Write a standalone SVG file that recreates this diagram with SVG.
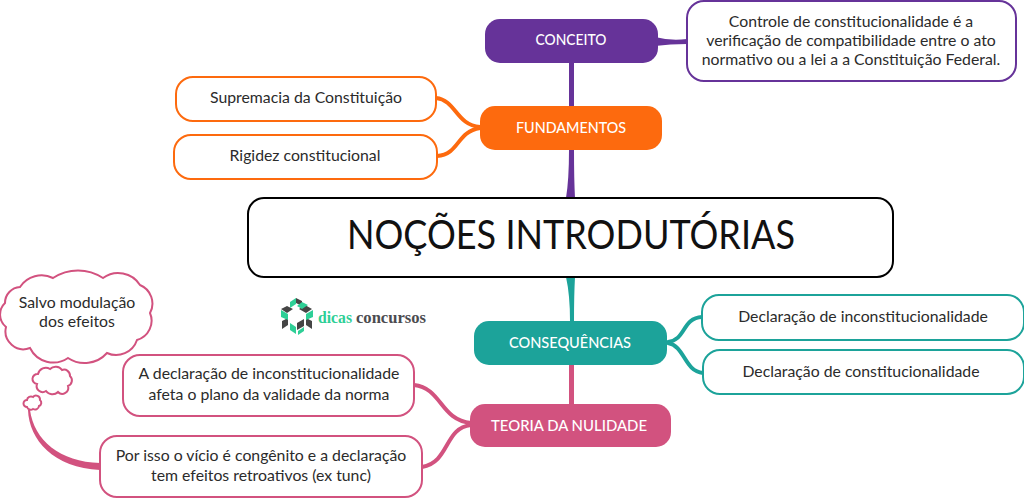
<svg xmlns="http://www.w3.org/2000/svg" width="1024" height="499" viewBox="0 0 1024 499">
<style>
text{font-family:"Lato","Open Sans",sans-serif;fill:#2b2b2b;text-anchor:middle}
.t{font-size:15.8px}
.h{font-size:15.5px;fill:#fff;font-weight:500}
.n{fill:#fff;stroke-width:2}
.c{fill:none;stroke-linecap:round;stroke-width:4}
.pur{stroke:#663399}.ora{stroke:#fd6a0e}.tea{stroke:#1ca39a}.pin{stroke:#d2527f}
</style>
<rect width="1024" height="499" fill="#fff"/>
<g id="connectors">
<path d="M569 63 L574 63 L574 106 L569 106Z" fill="#663399"/>
<path d="M566 198 Q569 180 569 150 L574 150 Q574 180 575 198Z" fill="#663399"/>
<path d="M655 37 Q670 41 687 39 L687 44 Q670 44 655 46Z" fill="#663399"/>
<path class="c ora" d="M436 98 C456 100 456 125 480 127"/>
<path class="c ora" d="M437 156 C460 154 456 132 480 128"/>
<path d="M566 277 Q570 295 570 321 L574 321 Q574 295 575 277Z" fill="#1ca39a"/>
<path d="M569 365 L574 365 L574 404 L569 404Z" fill="#d2527f"/>
<path class="c tea" d="M668 342 C686 340 682 318 702 317"/>
<path class="c tea" d="M668 343 C685 346 684 371 703 373"/>
<path class="c pin" d="M414 385 C442 388 440 420 471 423"/>
<path class="c pin" d="M422 467 C450 462 444 428 471 425"/>
<path d="M30 410 C34 440 60 462 100 463 L100 470 C54 468 29 440 28 410Z" fill="#d2527f"/>
</g>
<g id="conceito"><rect x="485" y="19" width="173" height="44" rx="15" fill="#663399"/><text class="h" x="571" y="45" textLength="71" lengthAdjust="spacingAndGlyphs">CONCEITO</text></g>
<g id="conceito-def"><rect class="n pur" x="687" y="1" width="329" height="80" rx="17"/>
<text class="t" x="851" y="27">Controle de constitucionalidade é a</text>
<text class="t" x="851" y="46">verificação de compatibilidade entre o ato</text>
<text class="t" x="851" y="65">normativo ou a lei a a Constituição Federal.</text></g>
<g id="fundamentos"><rect x="480" y="106" width="182" height="44" rx="15" fill="#fd6a0e"/><text class="h" x="571" y="133" textLength="110" lengthAdjust="spacingAndGlyphs">FUNDAMENTOS</text></g>
<g id="supremacia"><rect class="n ora" x="176" y="77" width="260" height="44" rx="17"/><text class="t" x="306" y="103">Supremacia da Constituição</text></g>
<g id="rigidez"><rect class="n ora" x="174" y="135" width="263" height="44" rx="17"/><text class="t" x="305" y="161">Rigidez constitucional</text></g>
<g id="central"><rect x="248" y="198" width="645" height="79" rx="16" fill="#fff" stroke="#000" stroke-width="2"/><text x="571" y="249" textLength="448" lengthAdjust="spacingAndGlyphs" style="font-size:41px;fill:#111">NOÇÕES INTRODUTÓRIAS</text></g>
<g id="consequencias"><rect x="474" y="321" width="193" height="44" rx="15" fill="#1ca39a"/><text class="h" x="570" y="348" textLength="122" lengthAdjust="spacingAndGlyphs">CONSEQUÊNCIAS</text></g>
<g id="inconst"><rect class="n tea" x="702" y="295" width="322" height="45" rx="17"/><text class="t" x="863" y="322">Declaração de inconstitucionalidade</text></g>
<g id="const"><rect class="n tea" x="703" y="350" width="321" height="44" rx="17"/><text class="t" x="861" y="377">Declaração de constitucionalidade</text></g>
<g id="teoria"><rect x="470" y="404" width="201" height="43" rx="15" fill="#d2527f"/><text class="h" x="569" y="431" textLength="156" lengthAdjust="spacingAndGlyphs">TEORIA DA NULIDADE</text></g>
<g id="plano"><rect class="n pin" x="123" y="355" width="291" height="61" rx="17"/>
<text class="t" x="269" y="379">A declaração de inconstitucionalidade</text>
<text class="t" x="269" y="400">afeta o plano da validade da norma</text></g>
<g id="vicio"><rect class="n pin" x="100" y="436" width="322" height="61" rx="17"/>
<text class="t" x="261" y="461">Por isso o vício é congênito e a declaração</text>
<text class="t" x="261" y="481">tem efeitos retroativos (ex tunc)</text></g>
<g id="nuvem"><path class="n pin" d="M20 287 A26 26 0 0 1 53 278 A45 45 0 0 1 103 278 A26 26 0 0 1 140 285 A20 20 0 0 1 150 313 A20 20 0 0 1 137 340 A22 22 0 0 1 107 353 A30 30 0 0 1 68 358 A26 26 0 0 1 30 348 A18 18 0 0 1 6 327 A16 16 0 0 1 5 303 A16 16 0 0 1 20 287Z"/>
<text class="t" x="77" y="308">Salvo modulação</text>
<text class="t" x="77" y="327">dos efeitos</text></g>
<g id="nuvem-media"><path class="n pin" d="M38 374 A8 8 0 0 1 50 369 A8 8 0 0 1 62 370 A6 6 0 0 1 70 376 A6 6 0 0 1 68 386 A6 6 0 0 1 58 392 A8 8 0 0 1 46 391 A6 6 0 0 1 37 384 A5 5 0 0 1 38 374Z"/></g>
<g id="nuvem-pequena"><path class="n pin" d="M27 400 A4 4 0 0 1 33 397 A4 4 0 0 1 40 400 A3.5 3.5 0 0 1 39 406 A4 4 0 0 1 33 409 A4 4 0 0 1 27 407 A3.5 3.5 0 0 1 27 400Z"/></g>
<g id="logo">
<path d="M296 298 L302 301 L302 306 L296 303Z M287 306 L293 309 L287 313 L281 309Z M305 305 L312 309 L306 313 L299 309Z M282 321 L288 318 L288 325 L282 329Z M312 321 L306 318 L306 325 L312 329Z M297 323 L304 319 L304 326 L297 330Z" fill="#454545"/>
<path d="M296 298 L296 304 L290 308 L290 302Z M302 302 L308 305 L302 309 L297 306Z M281 310 L288 314 L288 320 L281 317Z M313 310 L306 314 L306 320 L313 317Z M290 323 L296 327 L296 334 L290 330Z M298 331 L304 327 L304 331 L298 335Z" fill="#2ecf96"/>
<text x="318" y="323" textLength="34" lengthAdjust="spacingAndGlyphs" style="font-family:'Liberation Serif',serif;font-size:17px;font-weight:bold;fill:#2ecf96;text-anchor:start">dicas</text>
<text x="356" y="323" textLength="70" lengthAdjust="spacingAndGlyphs" style="font-family:'Liberation Serif',serif;font-size:16px;font-weight:bold;fill:#4b4b4f;text-anchor:start">concursos</text>
</g>
</svg>
